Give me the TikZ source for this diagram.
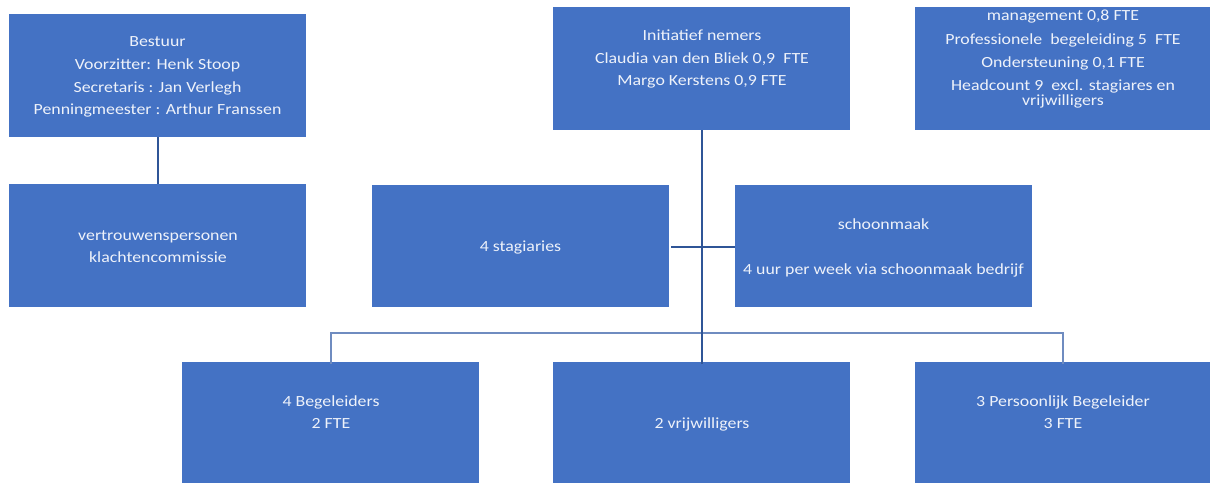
\documentclass[tikz,border=0pt]{standalone}
\usepackage{fontspec}
\setmainfont{Carlito}[FakeStretch=1.15]
\definecolor{boxblue}{HTML}{4472C4}
\definecolor{linkdark}{HTML}{2F5597}
\definecolor{linklight}{HTML}{6F8CC0}
\definecolor{txtc}{HTML}{EEF2FA}
\tikzset{
  box/.style={fill=boxblue, draw=none, inner sep=0pt, anchor=north west, minimum width=#1},
  box/.default=297pt,
  tx/.style={anchor=base, text=txtc, inner sep=0pt, font=\fontsize{15.5}{18}\selectfont},
  conn/.style={draw=linkdark, line width=1.6pt},
  connlight/.style={draw=linklight, line width=1.6pt}
}
\begin{document}
\begin{tikzpicture}[x=1pt,y=-1pt]
\useasboundingbox[fill=white] (0,0) rectangle (1210,483);
% boxes
\node[box, minimum height=123pt] (bestuur) at (9,14) {};
\node[box, minimum height=123pt] (vertrouw) at (9,184) {};
\node[box, minimum height=123pt] (init) at (553,7) {};
\node[box=295pt, minimum height=123pt] (mgmt) at (915,7) {};
\node[box, minimum height=122pt] (stag) at (372,185) {};
\node[box, minimum height=122pt] (schoon) at (735,185) {};
\node[box, minimum height=121pt] (begel) at (182,362) {};
\node[box, minimum height=121pt] (vrij) at (553,362) {};
\node[box=295pt, minimum height=121pt] (pers) at (915,362) {};
% texts
\node[tx] (bestuurA) at (157.5,46.7) {Bestuur};
\node[tx] (bestuurB) at (157.5,69.3) {Voorzitter: Henk Stoop};
\node[tx] (bestuurC) at (157.5,92) {Secretaris : Jan Verlegh};
\node[tx] (bestuurD) at (157.5,114.7) {Penningmeester : Arthur Franssen};
\node[tx] (vertrouwA) at (158,240) {vertrouwenspersonen};
\node[tx] (vertrouwB) at (158,262) {klachtencommissie};
\node[tx] (initA) at (702,40.3) {Initiatief nemers};
\node[tx] (initB) at (702,63.3) {Claudia van den Bliek 0,9\ \ FTE};
\node[tx] (initC) at (702,85.3) {Margo Kerstens 0,9 FTE};
\node[tx] (mgmtA) at (1063,20.7) {management 0,8 FTE};
\node[tx] (mgmtB) at (1063,44) {Professionele\ \ begeleiding 5\ \ FTE};
\node[tx] (mgmtC) at (1063,67.3) {Ondersteuning 0,1 FTE};
\node[tx] (mgmtD) at (1063,90.5) {Headcount 9\ \ excl. stagiares en};
\node[tx] (mgmtE) at (1063,105.5) {vrijwilligers};
\node[tx] (stagA) at (520.5,251) {4 stagiaries};
\node[tx] (schoonA) at (883.5,229) {schoonmaak};
\node[tx] (schoonB) at (883.5,274) {4 uur per week via schoonmaak bedrijf};
\node[tx] (begelA) at (331,406) {4 Begeleiders};
\node[tx] (begelB) at (331,428) {2 FTE};
\node[tx] (vrijA) at (702,428) {2 vrijwilligers};
\node[tx] (persA) at (1063,406) {3 Persoonlijk Begeleider};
\node[tx] (persB) at (1063,428) {3 FTE};
% connectors
\coordinate (branch) at (702,333);
\draw[conn] (bestuur.south) -- (vertrouw.north);
\draw[conn] ([yshift=-1pt]stag.east) ++(2,0) -- ([yshift=-1pt]schoon.west);
\draw[connlight] ([yshift=-2pt]begel.north) |- (branch) -| ([yshift=-2pt]pers.north);
\draw[conn] (init.south) -- ([yshift=-2pt]vrij.north);
\end{tikzpicture}
\end{document}
